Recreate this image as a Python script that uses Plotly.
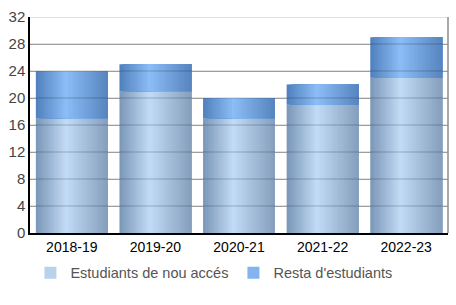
import plotly.graph_objects as go

categories = ["2018-19", "2019-20", "2020-21", "2021-22", "2022-23"]
nou_acces = [17, 21, 17, 19, 23]
resta = [7, 4, 3, 3, 6]
series_names = ["Estudiants de nou accés", "Resta d'estudiants"]
y_ticks = [0, 4, 8, 12, 16, 20, 24, 28, 32]

# gradient colours: left edge, highlight, right edge
grad_lower = [(122, 150, 182), (194, 219, 246), (132, 158, 188)]
grad_upper = [(80, 128, 188), (140, 189, 246), (86, 132, 190)]
PEAK = 0.42
N = 30
W = 0.86

def col(grad, t):
    if t <= PEAK:
        u = t / PEAK
        a, b = grad[0], grad[1]
    else:
        u = (t - PEAK) / (1 - PEAK)
        a, b = grad[1], grad[2]
    rgb = [round(a[k] + (b[k] - a[k]) * u) for k in range(3)]
    return "rgb(%d,%d,%d)" % tuple(rgb)

fig = go.Figure()
for s, (vals, bases, grad) in enumerate([
        (nou_acces, None, grad_lower),
        (resta, nou_acces, grad_upper)]):
    for i in range(N):
        t = (i + 0.5) / N
        fig.add_trace(go.Bar(
            x=categories, y=vals, base=bases,
            width=W - i * W / N, offset=-W / 2 + i * W / N,
            marker=dict(color=col(grad, t), line=dict(width=0)),
            name=series_names[s], legendgroup=series_names[s],
            showlegend=(i == N // 2), hoverinfo="skip"))

fig.update_layout(
    barmode="overlay",
    width=456, height=305,
    margin=dict(l=30, r=8, t=17, b=72),
    paper_bgcolor="white", plot_bgcolor="white",
    font=dict(family="Liberation Sans, Arial, sans-serif", size=14, color="#333"),
    xaxis=dict(type="category", range=[-0.5, 4.5], showline=True, linecolor="black",
               linewidth=1.5, ticks="", tickfont=dict(size=14, color="black"),
               showgrid=False, fixedrange=True, layer="above traces"),
    yaxis=dict(range=[0, 32], tickvals=y_ticks, showline=True, linecolor="black",
               linewidth=1.5, ticks="", showgrid=True, gridcolor="rgb(178,178,178)",
               gridwidth=1.2,
               tickfont=dict(size=15, color="#444"), zeroline=False,
               fixedrange=True, layer="above traces"),
    legend=dict(orientation="h", x=0.44, xanchor="center", y=-0.11, yanchor="top",
                font=dict(size=14.5, color="#555"), itemwidth=30,
                tracegroupgap=0),
    showlegend=True,
)
for v in y_ticks[1:]:
    fig.add_shape(type="line", xref="paper", yref="y", x0=0, x1=1, y0=v, y1=v,
                  line=dict(color="rgba(0,0,0,0.22)", width=1.2), layer="above")
fig.add_shape(type="line", xref="paper", yref="paper", x0=1, x1=1, y0=0, y1=1,
              line=dict(color="#8c8c8c", width=1.5))
fig.write_html("out.html")
